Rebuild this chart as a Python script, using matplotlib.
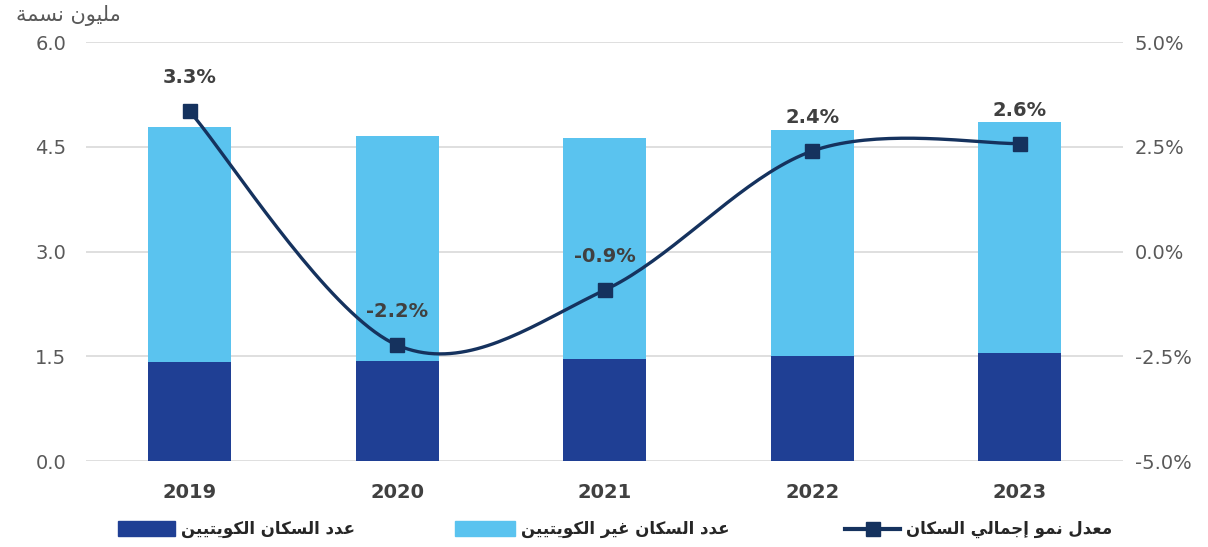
import numpy as np
import matplotlib
matplotlib.use('Agg')
import matplotlib.pyplot as plt
from matplotlib.patches import Rectangle
from matplotlib.lines import Line2D

# data
years = ['2019', '2020', '2021', '2022', '2023']
kuwaiti = [1.42, 1.44, 1.46, 1.50, 1.55]
total_pop = [4.78, 4.66, 4.63, 4.74, 4.86]
non_kuwaiti = [t - k for t, k in zip(total_pop, kuwaiti)]
growth = [3.35, -2.23, -0.92, 2.40, 2.58]
growth_labels = ['3.3%', '-2.2%', '-0.9%', '2.4%', '2.6%']

# colours
dark_blue = '#1F3F94'
light_blue = '#5AC3EF'
navy = '#15325E'
grey_txt = '#595959'

########
# simple arabic shaping (matplotlib draws letters isolated and left to right)
forms = {
    'ا': ('\uFE8D', '\uFE8E', None, None),
    'إ': ('\uFE87', '\uFE88', None, None),
    'ت': ('\uFE95', '\uFE96', '\uFE97', '\uFE98'),
    'ة': ('\uFE93', '\uFE94', None, None),
    'ج': ('\uFE9D', '\uFE9E', '\uFE9F', '\uFEA0'),
    'د': ('\uFEA9', '\uFEAA', None, None),
    'ر': ('\uFEAD', '\uFEAE', None, None),
    'س': ('\uFEB1', '\uFEB2', '\uFEB3', '\uFEB4'),
    'ع': ('\uFEC9', '\uFECA', '\uFECB', '\uFECC'),
    'غ': ('\uFECD', '\uFECE', '\uFECF', '\uFED0'),
    'ك': ('\uFED9', '\uFEDA', '\uFEDB', '\uFEDC'),
    'ل': ('\uFEDD', '\uFEDE', '\uFEDF', '\uFEE0'),
    'م': ('\uFEE1', '\uFEE2', '\uFEE3', '\uFEE4'),
    'ن': ('\uFEE5', '\uFEE6', '\uFEE7', '\uFEE8'),
    'و': ('\uFEED', '\uFEEE', None, None),
    'ي': ('\uFEF1', '\uFEF2', '\uFEF3', '\uFEF4'),
}


def shape_ar(s):
    out = []
    for i, ch in enumerate(s):
        if ch not in forms:
            out.append(ch)
            continue
        prev = s[i - 1] if i > 0 else ''
        nxt = s[i + 1] if i < len(s) - 1 else ''
        joins_prev = prev in forms and forms[prev][2] is not None
        joins_next = nxt in forms and forms[ch][2] is not None
        iso, fin, ini, med = forms[ch]
        if joins_prev and joins_next:
            out.append(med)
        elif joins_prev:
            out.append(fin)
        elif joins_next:
            out.append(ini)
        else:
            out.append(iso)
    return ''.join(out)[::-1]


unit_label = shape_ar('مليون نسمة')
lbl_kuwaiti = shape_ar('عدد السكان الكويتيين')
lbl_non = shape_ar('عدد السكان غير الكويتيين')
lbl_growth = shape_ar('معدل نمو إجمالي السكان')

########
# excel style smoothed line (bezier through the points)
def smooth(xs, ys, n=40):
    px = [xs[0]] + list(xs) + [xs[-1]]
    py = [ys[0]] + list(ys) + [ys[-1]]
    cx, cy = [], []
    t = np.linspace(0, 1, n)
    for i in range(1, len(px) - 2):
        p0 = np.array([px[i], py[i]])
        p3 = np.array([px[i + 1], py[i + 1]])
        c1 = p0 + (np.array([px[i + 1], py[i + 1]]) - np.array([px[i - 1], py[i - 1]])) / 6
        c2 = p3 - (np.array([px[i + 2], py[i + 2]]) - np.array([px[i], py[i]])) / 6
        pts = ((1 - t) ** 3)[:, None] * p0 + (3 * (1 - t) ** 2 * t)[:, None] * c1 \
            + (3 * (1 - t) * t ** 2)[:, None] * c2 + (t ** 3)[:, None] * p3
        cx += list(pts[:, 0])
        cy += list(pts[:, 1])
    return cx, cy

########
fig = plt.figure(figsize=(12.08, 5.47), dpi=100)
ax = fig.add_axes([0.071, 0.157, 0.859, 0.766])
x = np.arange(len(years))

ax.bar(x, kuwaiti, width=0.4, color=dark_blue, zorder=2)
ax.bar(x, non_kuwaiti, width=0.4, bottom=kuwaiti, color=light_blue, zorder=2)

ax.set_ylim(0, 6)
ax.set_yticks([0, 1.5, 3.0, 4.5, 6.0])
ax.set_yticklabels(['0.0', '1.5', '3.0', '4.5', '6.0'])
ax.set_xlim(-0.5, 4.5)
ax.set_xticks(x)
ax.set_xticklabels(years, fontweight='bold', fontsize=14, color='#404040')
ax.grid(axis='y', color='#D9D9D9', linewidth=1.2, zorder=0)
ax.set_axisbelow(True)
ax.tick_params(axis='y', length=0, labelsize=14, labelcolor=grey_txt, pad=14)
ax.tick_params(axis='x', length=0, pad=16)
for sp in ax.spines.values():
    sp.set_visible(False)

ax2 = ax.twinx()
ax2.set_ylim(-5, 5)
ax2.set_yticks([-5, -2.5, 0, 2.5, 5])
ax2.set_yticklabels(['-5.0%', '-2.5%', '0.0%', '2.5%', '5.0%'])
ax2.tick_params(axis='y', length=0, labelsize=14, labelcolor=grey_txt, pad=8)
for sp in ax2.spines.values():
    sp.set_visible(False)

sx, sy = smooth(x, growth)
ax2.plot(sx, sy, color=navy, linewidth=2.4, zorder=3)
ax2.plot(x, growth, linestyle='none', marker='s', markersize=9.5, color=navy, zorder=4)
for xi, g, lab in zip(x, growth, growth_labels):
    ax2.annotate(lab, (xi, g), xytext=(0, 24), textcoords='offset points',
                 ha='center', va='center', fontsize=14, fontweight='bold', color='#404040')

fig.text(0.057, 0.971, unit_label, ha='center', va='center', fontsize=15, color=grey_txt)

# legend drawn by hand, right to left like the reference
leg_y = 1 - 529 / 547
W, H = 1208, 547
legend_items = [
    ('patch', dark_blue, lbl_kuwaiti, 118, 175),
    ('patch', light_blue, lbl_non, 455, 515),
    ('line', navy, lbl_growth, 845, 900),
]
for kind, col, lab, h0, h1 in legend_items:
    if kind == 'patch':
        fig.patches.append(Rectangle((h0 / W, leg_y - 7 / H), (h1 - h0) / W, 15 / H,
                                     transform=fig.transFigure, color=col))
    else:
        fig.lines.append(Line2D([h0 / W, h1 / W], [leg_y, leg_y], transform=fig.transFigure,
                                color=col, linewidth=3))
        fig.lines.append(Line2D([(h0 + h1) / 2 / W], [leg_y], transform=fig.transFigure,
                                color=col, marker='s', markersize=9.5))
    fig.text((h1 + 6) / W, leg_y, lab, ha='left', va='center', fontsize=12,
             fontweight='bold', color='#262626')

fig.savefig('out.png', dpi=100)
